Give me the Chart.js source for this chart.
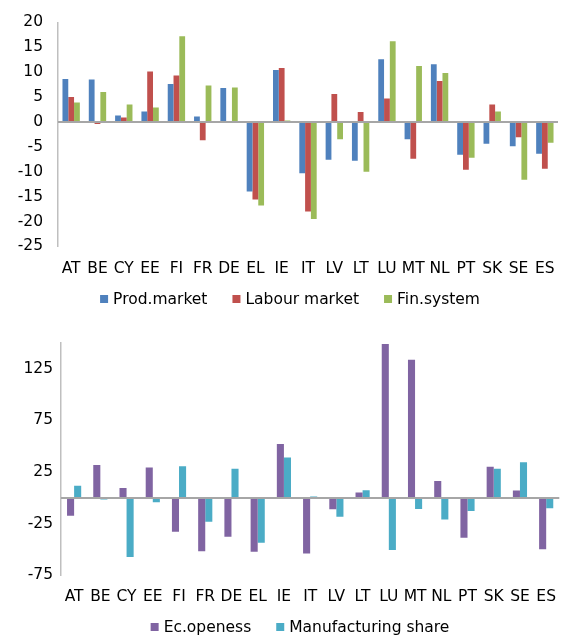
<!DOCTYPE html>
<html>
<head>
<meta charset="utf-8">
<script src="https://cdn.jsdelivr.net/npm/chart.js@4"></script>
<style>
  html, body { margin: 0; padding: 0; background: #fff; }
  body { width: 568px; height: 635px; position: relative; overflow: hidden; }
  .box { position: absolute; left: 0; width: 568px; }
  #top { top: -2px; height: 316px; }
  #bot { top: 320px; height: 315px; }
</style>
</head>
<body>
<div class="box" id="top"><canvas id="c1"></canvas></div>
<div class="box" id="bot"><canvas id="c2"></canvas></div>
<script>
// ---- data ----
const categories   = ['AT','BE','CY','EE','FI','FR','DE','EL','IE','IT','LV','LT','LU','MT','NL','PT','SK','SE','ES'];
const prodMarket   = [8.6, 8.5, 1.3, 2.1, 7.6, 1.1, 6.8, -14.0, 10.4, -10.3, -7.6, -7.8, 12.6, -3.5, 11.6, -6.6, -4.4, -4.9, -6.4];
const labourMarket = [5.0, -0.4, 0.9, 10.1, 9.3, -3.7, 0.1, -15.6, 10.8, -18.0, 5.6, 2.0, 4.7, -7.4, 8.2, -9.6, 3.5, -3.1, -9.4];
const finSystem    = [3.9, 6.0, 3.5, 2.9, 17.2, 7.3, 6.9, -16.8, 0.3, -19.5, -3.5, -10.0, 16.2, 11.2, 9.8, -7.2, 2.1, -11.6, -4.2];
const ecOpeness    = [-17.2, 32.0, 9.7, 29.4, -32.7, -51.5, -37.5, -52.1, 52.1, -53.7, -11.0, 5.2, 149, 133.7, 16.5, -38.5, 30.1, 7.1, -49.8];
const manufShare   = [11.7, -1.6, -57.3, -4.2, 30.7, -23.0, 28.2, -43.4, 39.2, 1.3, -18.1, 7.4, -50.5, -10.7, -21.0, -12.6, 28.2, 34.6, -10.0];
const topTicks = [20, 15, 10, 5, 0, -5, -10, -15, -20, -25];
const botTicks = [125, 75, 25, -25, -75];
const topSeriesNames = ['Prod.market', 'Labour market', 'Fin.system'];
const botSeriesNames = ['Ec.openess', 'Manufacturing share'];

const FONT = "'DejaVu Sans', Verdana, sans-serif";
const FSIZE = 15.5;
Chart.defaults.font.family = FONT;
Chart.defaults.font.size = FSIZE;
Chart.defaults.color = '#000';
Chart.defaults.animation = false;

const zeroLine = {
  id: 'zeroLine',
  afterDatasetsDraw(chart) {
    const y = chart.scales.y.getPixelForValue(0);
    const a = chart.chartArea;
    const ctx = chart.ctx;
    ctx.save();
    ctx.strokeStyle = '#A6A6A6';
    ctx.lineWidth = 2;
    ctx.beginPath();
    ctx.moveTo(a.left, y);
    ctx.lineTo(a.right, y);
    ctx.stroke();
    ctx.restore();
  }
};

// legend drawn from the chart's own datasets
const customLegend = {
  id: 'customLegend',
  afterDraw(chart, args, opts) {
    const ctx = chart.ctx;
    ctx.save();
    ctx.font = FSIZE + 'px ' + FONT;
    ctx.textBaseline = 'middle';
    const items = chart.data.datasets.map(d => ({ text: d.label, color: d.backgroundColor, w: ctx.measureText(d.label).width }));
    const box = opts.box, gap = opts.gap, itemGap = opts.itemGap;
    let total = 0;
    items.forEach((it, i) => { total += box + gap + it.w + (i < items.length - 1 ? itemGap : 0); });
    let x = opts.centerX - total / 2;
    const y = opts.y;
    items.forEach(it => {
      ctx.fillStyle = it.color;
      ctx.fillRect(x, y - box / 2, box, box);
      x += box + gap;
      ctx.fillStyle = '#000';
      ctx.fillText(it.text, x, y + 1);
      x += it.w + itemGap;
    });
    ctx.restore();
  }
};

function makeChart(id, datasets, ticksArr, min, max, yWidth, pad, catPct, xPad, yPad, legendOpts) {
  return new Chart(document.getElementById(id), {
    type: 'bar',
    data: { labels: categories, datasets },
    options: {
      responsive: true,
      maintainAspectRatio: false,
      layout: { padding: pad },
      datasets: { bar: { categoryPercentage: catPct, barPercentage: 1.0 } },
      plugins: {
        tooltip: { enabled: false },
        legend: { display: false },
        customLegend: legendOpts
      },
      scales: {
        x: {
          grid: { display: false, drawTicks: false },
          border: { display: false },
          ticks: { padding: xPad, maxRotation: 0, autoSkip: false }
        },
        y: {
          min, max,
          grid: { display: false, drawTicks: false },
          border: { display: true, color: '#BFBFBF', width: 1.5 },
          afterBuildTicks(scale) { scale.ticks = ticksArr.map(v => ({ value: v })); },
          afterFit(scale) { scale.width = yWidth; },
          ticks: { padding: yPad }
        }
      }
    },
    plugins: [zeroLine, customLegend]
  });
}

makeChart('c1', [
  { label: topSeriesNames[0], data: prodMarket,   backgroundColor: '#4F81BD' },
  { label: topSeriesNames[1], data: labourMarket, backgroundColor: '#C0504D' },
  { label: topSeriesNames[2], data: finSystem,    backgroundColor: '#9BBB59' }
], topTicks, -25, 20, 58, { top: 13, right: 10, left: 0, bottom: 23 }, 0.66, 13, 15,
   { centerX: 290, y: 301, box: 8, gap: 5, itemGap: 25 });

makeChart('c2', [
  { label: botSeriesNames[0], data: ecOpeness,  backgroundColor: '#8064A2' },
  { label: botSeriesNames[1], data: manufShare, backgroundColor: '#4BACC6' }
], botTicks, -75, 150, 61, { top: 23, right: 0, left: 0, bottom: 17 }, 0.54, 12, 8,
   { centerX: 300, y: 307, box: 8, gap: 5, itemGap: 25 });
</script>
</body>
</html>
